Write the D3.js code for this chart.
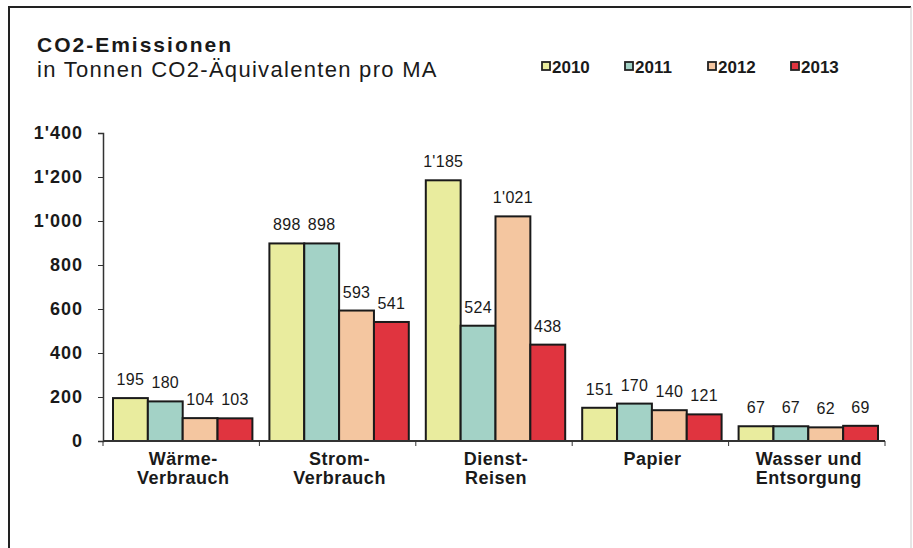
<!DOCTYPE html>
<html>
<head>
<meta charset="utf-8">
<script src="https://cdn.jsdelivr.net/npm/d3@7/dist/d3.min.js"></script>
<style>
  body { margin: 0; background: #fff; }
  text { font-family: "Liberation Sans", Arial, sans-serif; fill: #1a1a1a; }
</style>
</head>
<body>
<script>
// chart data
var categories = [["Wärme-", "Verbrauch"], ["Strom-", "Verbrauch"], ["Dienst-", "Reisen"], ["Papier"], ["Wasser und", "Entsorgung"]];
var years = ["2010", "2011", "2012", "2013"];
var values2010 = [195, 898, 1185, 151, 67];
var values2011 = [180, 898, 524, 170, 67];
var values2012 = [104, 593, 1021, 140, 62];
var values2013 = [103, 541, 438, 121, 69];
var yTicks = [0, 200, 400, 600, 800, 1000, 1200, 1400];
var colors = ["#e9ec9e", "#a3d2c6", "#f4c6a0", "#e0343f"];

var series = [values2010, values2011, values2012, values2013];

var width = 913, height = 548;
var plot = { left: 103, right: 885, top: 133, bottom: 441 };

var svg = d3.select("body").append("svg")
    .attr("width", width)
    .attr("height", height);

// frame
svg.append("path")
    .attr("d", "M9,548 V7 H911")
    .attr("fill", "none")
    .attr("stroke", "#222")
    .attr("stroke-width", 2);
svg.append("line")
    .attr("x1", 911).attr("x2", 911).attr("y1", 7).attr("y2", 548)
    .attr("stroke", "#ccc")
    .attr("stroke-width", 1);

// title
svg.append("text")
    .attr("x", 37).attr("y", 52)
    .attr("font-size", "21px")
    .attr("font-weight", "bold")
    .attr("letter-spacing", "2px")
    .text("CO2-Emissionen");
svg.append("text")
    .attr("x", 37).attr("y", 77)
    .attr("font-size", "22px")
    .attr("letter-spacing", "1.3px")
    .text("in Tonnen CO2-Äquivalenten pro MA");

var fmt = function(v) { return d3.format(",")(v).replace(/,/g, "'"); };

var x = d3.scaleBand()
    .domain(categories.map(function(d, i) { return i; }))
    .range([plot.left, plot.right]);

var xSub = d3.scaleBand()
    .domain(years)
    .range([10, x.bandwidth() - 7]);

var y = d3.scaleLinear()
    .domain([0, 1400])
    .range([plot.bottom, plot.top]);

// legend
var legend = svg.selectAll(".legend")
    .data(years)
    .enter().append("g")
    .attr("class", "legend")
    .attr("transform", function(d, i) { return "translate(" + (542 + i * 83) + ",62)"; });
legend.append("rect")
    .attr("width", 8).attr("height", 8)
    .attr("fill", function(d, i) { return colors[i]; })
    .attr("stroke", "#222")
    .attr("stroke-width", 1.8);
legend.append("text")
    .attr("x", 10).attr("y", 11)
    .attr("font-size", "17px")
    .attr("font-weight", "bold")
    .text(function(d) { return d; });

// y axis
var yAxis = svg.append("g")
    .attr("transform", "translate(" + plot.left + ",0)")
    .call(d3.axisLeft(y).tickValues(yTicks).tickSize(5).tickPadding(15).tickFormat(fmt));
yAxis.select(".domain").attr("stroke", "#333").attr("stroke-width", 1.5);
yAxis.selectAll(".tick line").attr("stroke", "#333");
yAxis.selectAll("text")
    .attr("font-size", "18px")
    .attr("font-weight", "bold")
    .attr("letter-spacing", "1px")
    .attr("font-family", "Liberation Sans, Arial, sans-serif")
    .attr("fill", "#1a1a1a");

// bars
var groups = svg.selectAll(".group")
    .data(categories)
    .enter().append("g")
    .attr("class", "group")
    .attr("transform", function(d, i) { return "translate(" + x(i) + ",0)"; });

groups.selectAll("rect")
    .data(function(d, i) { return series.map(function(s, j) { return { year: years[j], value: s[i], k: j }; }); })
    .enter().append("rect")
    .attr("x", function(d) { return xSub(d.year); })
    .attr("y", function(d) { return y(d.value); })
    .attr("width", xSub.bandwidth())
    .attr("height", function(d) { return y(0) - y(d.value); })
    .attr("fill", function(d) { return colors[d.k]; })
    .attr("stroke", "#1a1a1a")
    .attr("stroke-width", 2);

groups.selectAll(".val")
    .data(function(d, i) { return series.map(function(s, j) { return { year: years[j], value: s[i] }; }); })
    .enter().append("text")
    .attr("class", "val")
    .attr("x", function(d) { return xSub(d.year) + xSub.bandwidth() / 2; })
    .attr("y", function(d) { return y(d.value) - 13; })
    .attr("text-anchor", "middle")
    .attr("font-size", "16px")
    .attr("letter-spacing", "0.3px")
    .text(function(d) { return fmt(d.value); });

// x axis
var xAxis = svg.append("g");
xAxis.append("line")
    .attr("x1", plot.left).attr("x2", plot.right)
    .attr("y1", plot.bottom).attr("y2", plot.bottom)
    .attr("stroke", "#333").attr("stroke-width", 2);
xAxis.selectAll(".xtick")
    .data(categories.map(function(d, i) { return i; }).concat([categories.length]))
    .enter().append("line")
    .attr("x1", function(d) { return d < categories.length ? x(d) : plot.right; })
    .attr("x2", function(d) { return d < categories.length ? x(d) : plot.right; })
    .attr("y1", plot.bottom).attr("y2", plot.bottom + 5)
    .attr("stroke", "#333");

var catLabels = xAxis.selectAll(".cat")
    .data(categories)
    .enter().append("text")
    .attr("class", "cat")
    .attr("text-anchor", "middle")
    .attr("font-size", "18px")
    .attr("font-weight", "bold")
    .attr("letter-spacing", "0.5px")
    .attr("transform", function(d, i) { return "translate(" + (x(i) + x.bandwidth() / 2 + 2) + "," + (plot.bottom + 24) + ")"; });
catLabels.selectAll("tspan")
    .data(function(d) { return d; })
    .enter().append("tspan")
    .attr("x", 0)
    .attr("dy", function(d, i) { return i === 0 ? 0 : 19; })
    .text(function(d) { return d; });
</script>
</body>
</html>
